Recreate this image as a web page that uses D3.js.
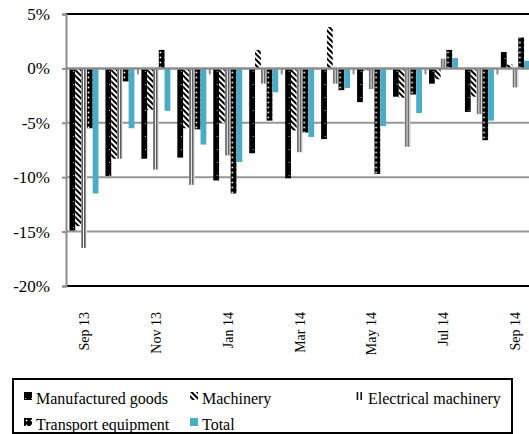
<!DOCTYPE html>
<html>
<head>
<meta charset="utf-8">
<script src="https://cdnjs.cloudflare.com/ajax/libs/d3/7.8.5/d3.min.js"></script>
<style>
	body { margin: 0; background: #fff; }
	svg { display: block; }
	svg text { font-family: "Liberation Serif", "Times New Roman", Times, "DejaVu Serif", serif; fill: #000; }
</style>
</head>
<body>
<div id="chart"></div>
<script>
// monthly y/y change, %
const months = ['Sep 13', 'Oct 13', 'Nov 13', 'Dec 13', 'Jan 14', 'Feb 14', 'Mar 14',
	'Apr 14', 'May 14', 'Jun 14', 'Jul 14', 'Aug 14', 'Sep 14'];

const seriesNames = ['Manufactured goods', 'Machinery', 'Electrical machinery', 'Transport equipment', 'Total'];

const manufacturedGoods   = [-14.9, -9.9, -8.3, -8.2, -10.3, -7.8, -10.1, -6.5, -3.1, -2.6, -1.4, -4.0, 1.5];
const machinery           = [-14.5, -8.3, -3.8, -5.5, -5.0, 1.7, -5.7, 3.8, -0.2, -2.7, -1.0, -2.6, 0.35];
const electricalMachinery = [-16.5, -8.3, -9.3, -10.7, -8.0, -1.4, -7.7, -1.4, -1.9, -7.2, 0.9, -4.2, -1.75];
const transportEquipment  = [-5.5, -1.2, 1.7, -5.6, -11.5, -4.8, -5.9, -2.0, -9.7, -2.4, 1.7, -6.6, 2.85];
const total               = [-11.5, -5.5, -3.9, -7.0, -8.6, -2.2, -6.3, -1.8, -5.3, -4.1, 0.95, -4.8, 0.7];

const yTicks = [5, 0, -5, -10, -15, -20];
const xTickLabels = ['Sep 13', 'Nov 13', 'Jan 14', 'Mar 14', 'May 14', 'Jul 14', 'Sep 14'];

const seriesValues = [manufacturedGoods, machinery, electricalMachinery, transportEquipment, total];

const width = 529,
	height = 434,
	plotLeft = 66,
	plotTop = 14,
	plotBottom = 286,
	monthStep = 35.95;

const svg = d3.select('#chart').append('svg')
	.attr('width', width)
	.attr('height', height);

// ###
// PATTERNS
// ###
const defs = svg.append('defs');

const pMfg = defs.append('pattern').attr('id', 'p-mfg')
	.attr('patternUnits', 'userSpaceOnUse').attr('width', 6).attr('height', 13);
pMfg.append('rect').attr('width', 6).attr('height', 13).attr('fill', '#000');
pMfg.append('rect').attr('x', 1).attr('y', 6).attr('width', 1).attr('height', 1).attr('fill', '#bbb');

const pMach = defs.append('pattern').attr('id', 'p-mach')
	.attr('patternUnits', 'userSpaceOnUse').attr('width', 4).attr('height', 4)
	.attr('patternTransform', 'rotate(-45)');
pMach.append('rect').attr('width', 4).attr('height', 4).attr('fill', '#fff');
pMach.append('rect').attr('width', 2).attr('height', 4).attr('fill', '#000');

const pElec = defs.append('pattern').attr('id', 'p-elec')
	.attr('patternUnits', 'objectBoundingBox').attr('patternContentUnits', 'objectBoundingBox')
	.attr('width', 1).attr('height', 1);
pElec.append('rect').attr('width', 1).attr('height', 1).attr('fill', '#fff');
pElec.append('rect').attr('x', 0.08).attr('width', 0.2).attr('height', 1).attr('fill', '#111');
pElec.append('rect').attr('x', 0.55).attr('width', 0.2).attr('height', 1).attr('fill', '#111');

const pTrans = defs.append('pattern').attr('id', 'p-trans')
	.attr('patternUnits', 'userSpaceOnUse').attr('width', 5).attr('height', 5);
pTrans.append('rect').attr('width', 5).attr('height', 5).attr('fill', '#000');
pTrans.append('circle').attr('cx', 2.5).attr('cy', 2.5).attr('r', 0.9).attr('fill', '#fff');

const fills = ['url(#p-mfg)', 'url(#p-mach)', 'url(#p-elec)', 'url(#p-trans)', '#4bacc6'];

// ###
// SCALES
// ###
const x0 = d3.scaleBand()
	.domain(months)
	.range([plotLeft, plotLeft + monthStep * months.length])
	.padding(0);

const x1 = d3.scaleBand()
	.domain(seriesNames)
	.range([0, x0.bandwidth()])
	.paddingInner(0)
	.paddingOuter(0.6);

const y = d3.scaleLinear()
	.domain([-20, 5])
	.range([plotBottom, plotTop]);

// ###
// GRID
// ###
svg.append('g').selectAll('line')
	.data(yTicks.filter(d => d !== 0))
	.enter()
	.append('line')
	.attr('x1', plotLeft).attr('x2', width)
	.attr('y1', d => y(d)).attr('y2', d => y(d))
	.style('stroke', d => (d === 5 || d === -20) ? '#000' : '#969696')
	.style('stroke-width', 2);

// ###
// BARS
// ###
const groups = svg.append('g').selectAll('g')
	.data(months)
	.enter()
	.append('g')
	.attr('transform', d => `translate(${x0(d)},0)`);

groups.selectAll('rect')
	.data((m, i) => seriesNames.map((s, j) => ({series: s, idx: j, value: seriesValues[j][i]})))
	.enter()
	.append('rect')
	.attr('x', d => x1(d.series))
	.attr('width', x1.bandwidth())
	.attr('y', d => y(Math.max(0, d.value)))
	.attr('height', d => Math.abs(y(d.value) - y(0)))
	.attr('fill', d => fills[d.idx]);

// category axis along zero
svg.append('line')
	.attr('x1', plotLeft).attr('x2', width)
	.attr('y1', y(0)).attr('y2', y(0))
	.style('stroke', '#8c8c8c')
	.style('stroke-width', 2.5);

svg.append('g').selectAll('line')
	.data(xTickLabels.slice(1))
	.enter()
	.append('line')
	.attr('x1', d => x0(d)).attr('x2', d => x0(d))
	.attr('y1', y(0)).attr('y2', y(0) + 6)
	.style('stroke', '#8c8c8c')
	.style('stroke-width', 2);

// ###
// Y AXIS
// ###
const yAxis = svg.append('g')
	.attr('transform', `translate(${plotLeft},0)`)
	.call(d3.axisLeft(y).tickValues(yTicks).tickSize(4).tickPadding(12).tickFormat(d => d + '%'));

yAxis.attr('font-family', null);
yAxis.select('.domain').style('stroke', '#8c8c8c').style('stroke-width', 2);
yAxis.selectAll('.tick line').style('stroke', '#8c8c8c').style('stroke-width', 2);
yAxis.selectAll('text')
	.style('font-size', '17px');

// ###
// X LABELS
// ###
svg.append('g').selectAll('text')
	.data(xTickLabels)
	.enter()
	.append('text')
	.attr('transform', d => `translate(${x0(d) + x0.bandwidth() / 2},312) rotate(-90)`)
	.attr('dy', '0.35em')
	.attr('text-anchor', 'end')
	.style('font-size', '14px')
	.text(d => d);

// ###
// LEGEND
// ###
svg.append('rect')
	.attr('x', 13).attr('y', 379)
	.attr('width', 499).attr('height', 54)
	.style('fill', 'none')
	.style('stroke', '#000')
	.style('stroke-width', 2);

const legendSpots = [[24, 392], [190, 392], [356, 392], [24, 418], [190, 418]];

const legendItems = svg.append('g').selectAll('g')
	.data(seriesNames)
	.enter()
	.append('g')
	.attr('transform', (d, i) => `translate(${legendSpots[i][0]},${legendSpots[i][1]})`);

legendItems.append('rect')
	.attr('width', 8).attr('height', 8)
	.attr('fill', (d, i) => fills[i]);

legendItems.append('text')
	.attr('x', 12).attr('y', 12)
	.style('font-size', '16px')
	.text(d => d);
</script>
</body>
</html>
